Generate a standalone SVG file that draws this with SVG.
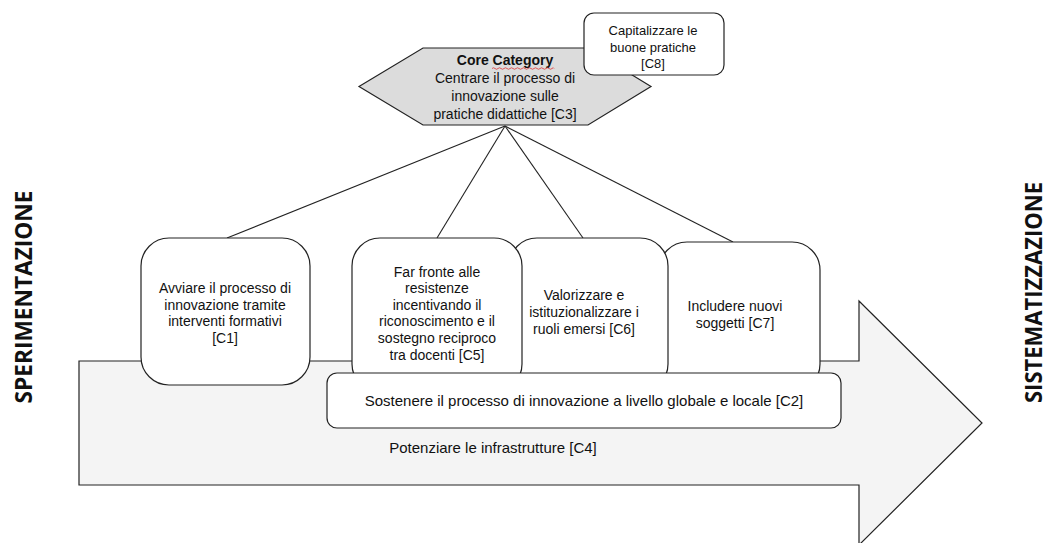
<svg xmlns="http://www.w3.org/2000/svg" width="1047" height="543" viewBox="0 0 1047 543">
<style>
.shape{stroke:#222;stroke-width:1.2;fill:#fff}
.t{font-family:"Liberation Sans",Arial,sans-serif;font-size:14px;fill:#111;text-anchor:middle}
.s{font-size:13px}
.l{font-size:15px}
.b{font-weight:bold}
.side{font-family:"Open Sans","DejaVu Sans",sans-serif;font-weight:bold;font-size:23px;fill:#111;text-anchor:middle}
.conn{stroke:#222;stroke-width:1.1;fill:none}
</style>
<rect width="1047" height="543" fill="#fff"/>
<g id="arrow-C4">
<path class="shape" style="fill:#f4f4f4" d="M79,361 H859 V301 L982,423 L859,545 V485 H79 Z"/>
<text class="t l" x="493" y="453">Potenziare le infrastrutture [C4]</text>
</g>
<g id="connectors">
<line class="conn" x1="505" y1="126" x2="227" y2="238"/>
<line class="conn" x1="505" y1="126" x2="437" y2="238"/>
<line class="conn" x1="505" y1="126" x2="583" y2="238"/>
<line class="conn" x1="505" y1="126" x2="733" y2="242"/>
</g>
<g id="C1">
<rect class="shape" x="141" y="238" width="169" height="147" rx="28"/>
<text class="t" x="225" y="293">Avviare il processo di</text>
<text class="t" x="225" y="310">innovazione tramite</text>
<text class="t" x="225" y="326">interventi formativi</text>
<text class="t" x="225" y="343">[C1]</text>
</g>
<g id="C7">
<rect class="shape" x="659" y="242" width="161" height="150" rx="28"/>
<text class="t" x="735" y="311">Includere nuovi</text>
<text class="t" x="735" y="328">soggetti [C7]</text>
</g>
<g id="C6">
<rect class="shape" x="509" y="238" width="159" height="154" rx="28"/>
<text class="t" x="584" y="300">Valorizzare e</text>
<text class="t" x="584" y="317">istituzionalizzare i</text>
<text class="t" x="584" y="334">ruoli emersi [C6]</text>
</g>
<g id="C5">
<rect class="shape" x="352" y="238" width="170" height="154" rx="28"/>
<text class="t" x="437" y="277">Far fronte alle</text>
<text class="t" x="437" y="293">resistenze</text>
<text class="t" x="437" y="310">incentivando il</text>
<text class="t" x="437" y="326">riconoscimento e il</text>
<text class="t" x="437" y="343">sostegno reciproco</text>
<text class="t" x="437" y="360">tra docenti [C5]</text>
</g>
<g id="C2">
<rect class="shape" x="327" y="373" width="514" height="55" rx="10"/>
<text class="t l" x="584" y="406">Sostenere il processo di innovazione a livello globale e locale [C2]</text>
</g>
<g id="C3">
<polygon class="shape" style="fill:#dcdcdc" points="359,86.5 423,48 588,48 651,86.5 588,125 423,125"/>
<text class="t b" x="505" y="65">Core Category</text>
<path d="M492,68.5 q1.5,-1.5 3,0 t3,0 t3,0 t3,0 t3,0 t3,0 t3,0 t3,0 t3,0 t3,0 t3,0 t3,0 t3,0 t3,0 t3,0 t3,0 t3,0 t3,0 t3,0 t3,0 t2,0" fill="none" stroke="#d33" stroke-width="0.8"/>
<text class="t" x="505" y="83">Centrare il processo di</text>
<text class="t" x="505" y="101">innovazione sulle</text>
<text class="t" x="505" y="119">pratiche didattiche [C3]</text>
</g>
<g id="C8">
<rect class="shape" x="584" y="13" width="140" height="62" rx="10"/>
<text class="t s" x="653" y="34.5">Capitalizzare le</text>
<text class="t s" x="653" y="51.5">buone pratiche</text>
<text class="t s" x="653" y="67.5">[C8]</text>
</g>
<g id="label-sperimentazione">
<text class="side" transform="translate(32,297) rotate(-90)" textLength="213" lengthAdjust="spacingAndGlyphs">SPERIMENTAZIONE</text>
</g>
<g id="label-sistematizzazione">
<text class="side" transform="translate(1042,292.5) rotate(-90)" textLength="221" lengthAdjust="spacingAndGlyphs">SISTEMATIZZAZIONE</text>
</g>
</svg>
